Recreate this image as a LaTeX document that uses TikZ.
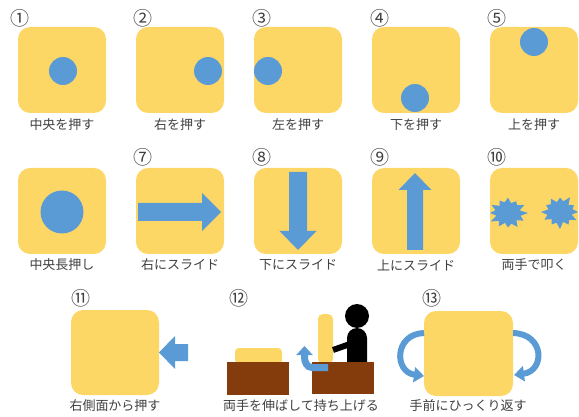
\documentclass[tikz,border=0pt]{standalone}
\usepackage{fontspec}
\setmainfont{Noto Sans CJK JP}
\usetikzlibrary{arrows.meta}

\definecolor{padyellow}{HTML}{FDD766}
\definecolor{tapblue}{HTML}{5B9BD5}
\definecolor{deskbrown}{HTML}{843C0C}

\begin{document}
\begin{tikzpicture}[x=1pt, y=-1pt]
\tikzstyle{pad} = [fill=padyellow, rounded corners=12pt, minimum width=88pt, minimum height=86pt, inner sep=0pt]
\tikzstyle{num} = [font=\fontsize{19}{19}\selectfont, text=black!75, inner sep=0pt]
\tikzstyle{lbl} = [font=\fontsize{13}{15}\selectfont, text=black!75, inner sep=0pt]
\tikzstyle{dot} = [circle, fill=tapblue, minimum size=28pt, inner sep=0pt]
\tikzstyle{flip} = [draw=tapblue, line width=6pt, -{Triangle[width=15pt, length=10pt]}]

\useasboundingbox (0,0) rectangle (579,417);

% top row: press positions
\node[pad] (P1) at (62,70) {};
\node[pad] (P2) at (180,70) {};
\node[pad] (P3) at (298,70) {};
\node[pad] (P4) at (416,70) {};
\node[pad] (P5) at (534,70) {};

\node[num] (N1) at (20,18) {①};
\node[num] (N2) at (143,18) {②};
\node[num] (N3) at (262,18) {③};
\node[num] (N4) at (380,18) {④};
\node[num] (N5) at (497,18) {⑤};

\node[dot] (D1) at (63,71) {};
\node[dot] (D2) at (208,71) {};
\node[dot] (D3) at (268,71) {};
\node[dot] (D4) at (415,98) {};
\node[dot] (D5) at (534,42) {};

\node[lbl] (L1) at (62,125) {中央を押す};
\node[lbl] (L2) at (180,125) {右を押す};
\node[lbl] (L3) at (298,125) {左を押す};
\node[lbl] (L4) at (416,125) {下を押す};
\node[lbl] (L5) at (534,125) {上を押す};

% middle row: long press, slides, tap
\node[pad] (P6) at (62,211) {};
\node[pad] (P7) at (180,211) {};
\node[pad] (P8) at (298,211) {};
\node[pad] (P9) at (416,211) {};
\node[pad] (P10) at (534,211) {};

\node[num] (N7) at (143,157) {⑦};
\node[num] (N8) at (262,157) {⑧};
\node[num] (N9) at (380,157) {⑨};
\node[num] (N10) at (497,157) {⑩};

\node[dot, minimum size=43pt] (D6) at (62,212) {};

\fill[tapblue] (138,203) -- (202,203) -- (202,193) -- (221,212) -- (202,231) -- (202,221) -- (138,221) -- cycle;
\fill[tapblue] (289,172) -- (307,172) -- (307,231) -- (316.5,231) -- (298,250) -- (279.5,231) -- (289,231) -- cycle;
\fill[tapblue] (407,250) -- (423,250) -- (423,190) -- (431.5,190) -- (415,173) -- (398.5,190) -- (407,190) -- cycle;

% two bursts for the tap
\fill[tapblue, shift={(508,213)}, yscale=0.85] (0:20)
  \foreach \a/\r in {15/13, 30/18, 45/12, 60/19, 75/13, 90/17, 105/12, 120/18, 135/13, 150/20, 165/12, 180/18, 195/13, 210/19, 225/12, 240/17, 255/13, 270/18, 285/12, 300/16, 315/13, 330/19, 345/12} { -- (\a:\r) } -- cycle;
\fill[tapblue, shift={(560,212)}, yscale=0.85] (0:18)
  \foreach \a/\r in {15/12, 30/19, 45/13, 60/17, 75/12, 90/20, 105/13, 120/17, 135/12, 150/18, 165/13, 180/19, 195/12, 210/16, 225/13, 240/18, 255/12, 270/17, 285/13, 300/20, 315/12, 330/16, 345/13} { -- (\a:\r) } -- cycle;

\node[lbl] (L6) at (62,265) {中央長押し};
\node[lbl] (L7) at (180,265) {右にスライド};
\node[lbl] (L8) at (298,265) {下にスライド};
\node[lbl] (L9) at (416,265) {上にスライド};
\node[lbl] (L10) at (534,265) {両手で叩く};

% bottom row
\node[pad, minimum height=85pt] (P11) at (115,352.5) {};
\node[num] (N11) at (81,298) {⑪};
\fill[tapblue] (188,344) -- (175,344) -- (175,336) -- (159,352.5) -- (175,369) -- (175,361) -- (188,361) -- cycle;
\node[lbl] (L11) at (115,406) {右側面から押す};

% lifting with both hands
\node[num] (N12) at (239,298) {⑫};
\fill[padyellow, rounded corners=4pt] (235,364) -- (235,348) -- (282,348) -- (282,364) -- cycle;
\fill[padyellow, rounded corners=5pt] (318,364) -- (318,314) -- (333,314) -- (333,364) -- cycle;
\fill[black] (357,316) circle[radius=12];
\fill[black] (347,362) -- (347,338) arc[start angle=180, end angle=360, radius=10] -- (367,362) -- cycle;
\draw[black, line width=6pt] (333,350) -- (350,344);
\node[fill=deskbrown, minimum width=62pt, minimum height=33pt, inner sep=0pt] (T1) at (258,378.5) {};
\node[fill=deskbrown, minimum width=62pt, minimum height=32pt, inner sep=0pt] (T2) at (343,378) {};
\draw[tapblue, line width=7pt, -{Triangle[width=16pt, length=9pt]}] (328,367.5) -- (312,367.5) to[out=180, in=-90] (304.5,357) -- (304.5,346);
\node[lbl] (L12) at (301,406) {両手を伸ばして持ち上げる};

% flipping towards you
\node[pad, minimum width=89pt, minimum height=85pt] (P13) at (468.5,353.5) {};
\node[num] (N13) at (432,298) {⑬};
\coordinate (FL1) at (424,333);
\coordinate (FL2) at (424,376);
\coordinate (FR1) at (513,333);
\coordinate (FR2) at (514,375);
\draw[flip] (FL1) .. controls (394,334) and (394,372) .. (FL2);
\draw[flip] (FR1) .. controls (545,334) and (545,371) .. (FR2);
\node[lbl] (L13) at (468,406) {手前にひっくり返す};
\end{tikzpicture}
\end{document}
